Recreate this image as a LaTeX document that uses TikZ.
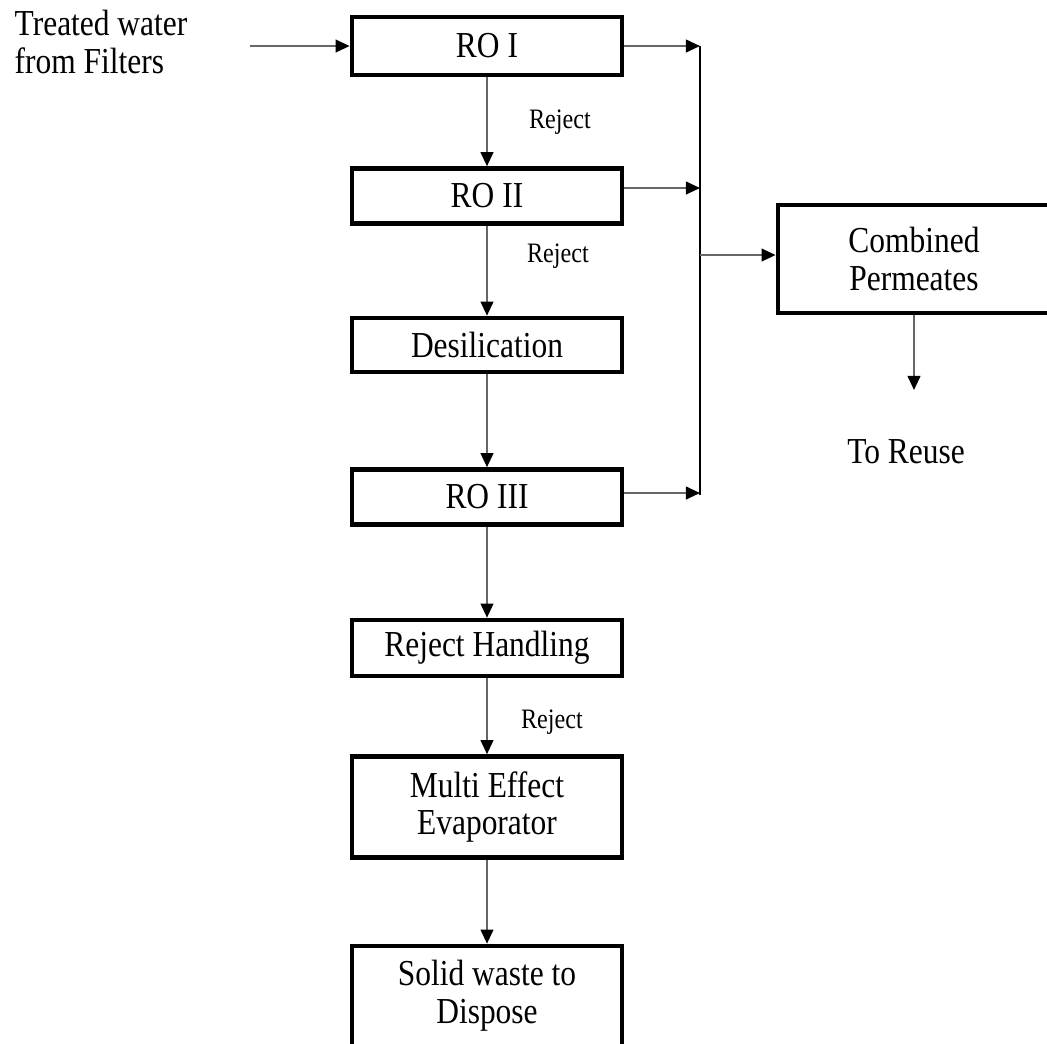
\documentclass[tikz,border=0pt]{standalone}
\usepackage{fontspec}
\setmainfont{Liberation Serif}[FakeStretch=0.86]
\usetikzlibrary{arrows.meta}
\begin{document}
\begin{tikzpicture}[x=0.01cm,y=-0.01cm,
    font=\fontsize{10.4}{10.8}\selectfont,
    unit/.style={draw,line width=1.3pt,minimum width=2.7cm,align=center,inner sep=0pt},
    flow/.style={black!60,line width=0.6pt,-{Triangle[length=4pt,width=3.6pt,color=black]}},
    tag/.style={font=\fontsize{8}{9}\selectfont}]
    \useasboundingbox (0,0) rectangle (1047,1044);
    \clip (0,0) rectangle (1047,1044);
    % main train
    \node[unit,minimum height=0.58cm] (roI) at (487,46) {RO I};
    \node[unit,minimum height=0.55cm] (roII) at (487,196) {RO II};
    \node[unit,minimum height=0.54cm] (desil) at (487,345) {Desilication};
    \node[unit,minimum height=0.55cm] (roIII) at (487,497) {RO III};
    \node[unit,minimum height=0.56cm] (rejh) at (487,648) {Reject Handling};
    \node[unit,minimum height=1.01cm] (mee) at (487,807) {Multi Effect\\Evaporator};
    \node[unit,minimum height=1.0cm] (solid) at (487,996) {Solid waste to\\Dispose};
    \node[unit,minimum width=2.72cm,minimum height=1.08cm] (comb) at (914,259) {Combined\\Permeates};
    % texts
    \node[anchor=west,align=left,inner sep=0pt] (feed) at (14,42) {Treated water\\from Filters};
    \node (reuse) at (906,452) {To Reuse};
    \node[tag] (rj1) at (560,122) {Reject};
    \node[tag] (rj2) at (558,256) {Reject};
    \node[tag] (rj3) at (552,722) {Reject};
    \coordinate (in) at (250,46);
    \coordinate (bustop) at (700,46);
    \coordinate (busbot) at (700,495);
    \coordinate (out) at (914,390);
    % arrows
    \draw[flow] (in) -- (roI.west);
    \draw[flow] (roI) -- (roII);
    \draw[flow] (roII) -- (desil);
    \draw[flow] (desil) -- (roIII);
    \draw[flow] (roIII) -- (rejh);
    \draw[flow] (rejh) -- (mee);
    \draw[flow] (mee) -- (solid);
    \draw[flow] (roI.east) -- (bustop);
    \draw[flow] (roII.east |- 0,188) -- (bustop |- 0,188);
    \draw[flow] (roIII.east |- 0,493) -- (busbot |- 0,493);
    \draw[line width=0.7pt] (bustop) -- (busbot);
    \draw[flow] (bustop |- 0,255) -- (comb.west |- 0,255);
    \draw[flow] (comb) -- (out);
\end{tikzpicture}
\end{document}
